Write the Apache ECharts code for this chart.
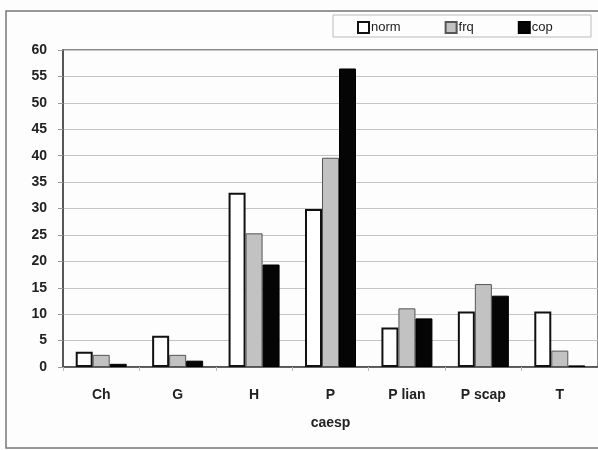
<!DOCTYPE html>
<html>
<head>
<meta charset="utf-8">
<script src="https://cdn.jsdelivr.net/npm/echarts@6/dist/echarts.min.js"></script>
<style>html,body{margin:0;padding:0;background:#fdfdfd;}#c{width:598px;height:450px;}</style>
</head>
<body>
<div id="c"></div>
<script>
var categories = ['Ch', 'G', 'H', 'P', 'P lian', 'P scap', 'T'];
var normValues = [2.9, 5.9, 33.0, 29.9, 7.5, 10.5, 10.5];
var frqValues = [2.3, 2.3, 25.3, 39.6, 11.1, 15.7, 3.1];
var copValues = [0.6, 1.2, 19.4, 56.5, 9.2, 13.5, 0.3];
var yTicks = [0, 5, 10, 15, 20, 25, 30, 35, 40, 45, 50, 55, 60];

var chart = echarts.init(document.getElementById('c'));
var font = 'Liberation Sans, Arial, sans-serif';
chart.setOption({
  animation: false,
  backgroundColor: '#fdfdfd',
  graphic: [
    {type: 'rect', shape: {x: 6, y: 11, width: 600, height: 437}, style: {fill: 'none', stroke: '#777', lineWidth: 1.5}, z: -1},
    {type: 'rect', shape: {x: 333, y: 15, width: 258, height: 22}, style: {fill: '#fdfdfd', stroke: '#bbb', lineWidth: 1}, z: 0}
  ],
  legend: {
    top: 16, left: 352,
    itemGap: 44,
    itemWidth: 11, itemHeight: 11,
    icon: 'rect',
    textStyle: {fontFamily: font, fontSize: 13, color: '#222', padding: [0, 0, 0, -3]},
    data: ['norm', 'frq', 'cop']
  },
  grid: {left: 63, right: -4, top: 50, bottom: 83, show: true, borderColor: '#666', borderWidth: 1.5, backgroundColor: 'transparent'},
  xAxis: {
    type: 'category',
    data: categories,
    name: 'caesp',
    nameLocation: 'middle',
    nameGap: 49,
    nameTextStyle: {fontFamily: font, fontSize: 14, fontWeight: 'bold', color: '#222'},
    axisLine: {lineStyle: {color: '#444', width: 1.5}},
    axisTick: {show: true, length: 4, lineStyle: {color: '#bbb'}},
    axisLabel: {fontFamily: font, fontSize: 14, fontWeight: 'bold', color: '#222', margin: 21}
  },
  yAxis: {
    type: 'value',
    min: 0, max: 60, interval: 5,
    axisLine: {show: true, lineStyle: {color: '#444', width: 1.5}},
    axisTick: {show: true, length: 5, lineStyle: {color: '#999'}},
    axisLabel: {fontFamily: font, fontSize: 14, fontWeight: 'bold', color: '#222', margin: 16,
      formatter: function (v) { return yTicks.indexOf(v) >= 0 ? String(v) : ''; }},
    splitLine: {show: true, lineStyle: {color: '#c4c4c4', width: 1.2}}
  },
  series: [
    {name: 'norm', type: 'bar', data: normValues, barWidth: 17, barGap: '0%',
      itemStyle: {color: '#ffffff', borderColor: '#111', borderWidth: 2}},
    {name: 'frq', type: 'bar', data: frqValues, barWidth: 17,
      itemStyle: {color: '#c2c2c2', borderColor: '#555', borderWidth: 1}},
    {name: 'cop', type: 'bar', data: copValues, barWidth: 17,
      itemStyle: {color: '#050505', borderColor: '#000', borderWidth: 1}}
  ]
});
</script>
</body>
</html>
